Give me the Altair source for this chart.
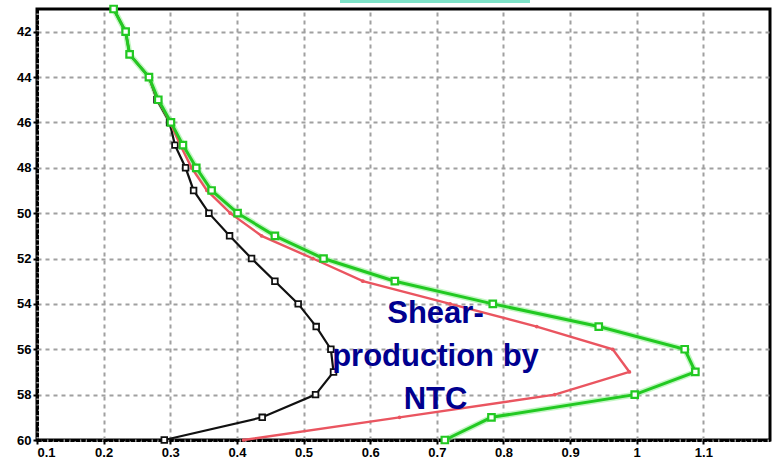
import altair as alt
import pandas as pd

heights = [41, 42, 43, 44, 45, 46, 47, 48, 49, 50, 51, 52, 53, 54, 55, 56, 57, 58, 59, 60]
green_vals = [0.215, 0.233, 0.239, 0.268, 0.282, 0.301, 0.319, 0.339, 0.362, 0.401,
              0.457, 0.530, 0.637, 0.784, 0.943, 1.072, 1.088, 0.997, 0.782, 0.712]
red_vals = [0.215, 0.233, 0.239, 0.268, 0.281, 0.300, 0.315, 0.332, 0.355, 0.390,
            0.437, 0.514, 0.589, 0.720, 0.850, 0.964, 0.989, 0.877, 0.644, 0.410]
black_vals = [0.215, 0.233, 0.239, 0.268, 0.280, 0.299, 0.307, 0.323, 0.335, 0.358,
              0.389, 0.422, 0.457, 0.492, 0.519, 0.541, 0.545, 0.518, 0.438, 0.291]
x_ticks = [0.1, 0.2, 0.3, 0.4, 0.5, 0.6, 0.7, 0.8, 0.9, 1.0, 1.1]
y_ticks = [42, 44, 46, 48, 50, 52, 54, 56, 58, 60]
annotation = ["Shear-", "production by", "NTC"]

green_df = pd.DataFrame({"x": green_vals, "y": heights})
red_df = pd.DataFrame({"x": red_vals, "y": heights})
black_df = pd.DataFrame({"x": black_vals, "y": heights})

xscale = alt.Scale(domain=[0.1, 1.2], nice=False, zero=False)
yscale = alt.Scale(domain=[41, 60], reverse=True, nice=False, zero=False)

xenc = alt.X("x:Q", scale=xscale, title=None,
             axis=alt.Axis(values=x_ticks, format=".1~f", grid=True))
yenc = alt.Y("y:Q", scale=yscale, title=None,
             axis=alt.Axis(values=y_ticks, grid=True))

GREEN = "#22c922"
RED = "#ea5560"

def series(df, color, width, shape, size, filled, stroke_w):
    line = alt.Chart(df).mark_line(color=color, strokeWidth=width).encode(
        x=xenc, y=yenc, order="y:Q")
    if filled:
        pts = alt.Chart(df).mark_point(shape=shape, size=size, filled=True,
                                       color=color, opacity=1).encode(x=xenc, y=yenc)
    else:
        pts = alt.Chart(df).mark_point(shape=shape, size=size, filled=True,
                                       fill="white", stroke=color,
                                       strokeWidth=stroke_w, opacity=1).encode(x=xenc, y=yenc)
    return line, pts

glow = alt.Chart(green_df).mark_line(color="#9df09d", strokeWidth=6, opacity=0.6).encode(
    x=xenc, y=yenc, order="y:Q")

bl, bp = series(black_df, "#111111", 2.2, "square", 32, False, 1.8)
rl, rp = series(red_df, RED, 2.4, "circle", 14, True, 1)
gl, gp = series(green_df, GREEN, 3, "square", 42, False, 2.2)

text = alt.Chart(pd.DataFrame({"t": [annotation], "x": [0.698], "y": [54.85]})).mark_text(
    font="Liberation Sans", fontWeight="bold", fontSize=31, color="#00008f",
    align="center", baseline="alphabetic", lineHeight=43
).encode(x=alt.X("x:Q", scale=xscale), y=alt.Y("y:Q", scale=yscale), text="t")

topbar = alt.Chart(pd.DataFrame({"a": [0]})).mark_rect(color="#7fe3c9").encode(
    x=alt.value(303), x2=alt.value(493), y=alt.value(-9), y2=alt.value(-6))

chart = alt.layer(glow, bl, bp, rl, rp, gl, gp, text, topbar).properties(
    width=733, height=431,
    background="white",
    autosize=alt.AutoSizeParams(type="none"),
    padding={"left": 37, "top": 9, "right": 6, "bottom": 19},
).configure_view(
    stroke="black", strokeWidth=3
).configure_axis(
    gridColor="#a0a0a0", gridDash=[4, 4], gridWidth=2, gridOpacity=1,
    domainColor="black", domainWidth=3, domainDash=[4, 1.5],
    tickColor="black", tickSize=4, tickWidth=2,
    labelFont="Liberation Sans", labelFontWeight="bold", labelFontSize=13,
    labelColor="black", labelPadding=2
)

chart.save("out.html", embed_options={"renderer": "svg", "actions": False})
